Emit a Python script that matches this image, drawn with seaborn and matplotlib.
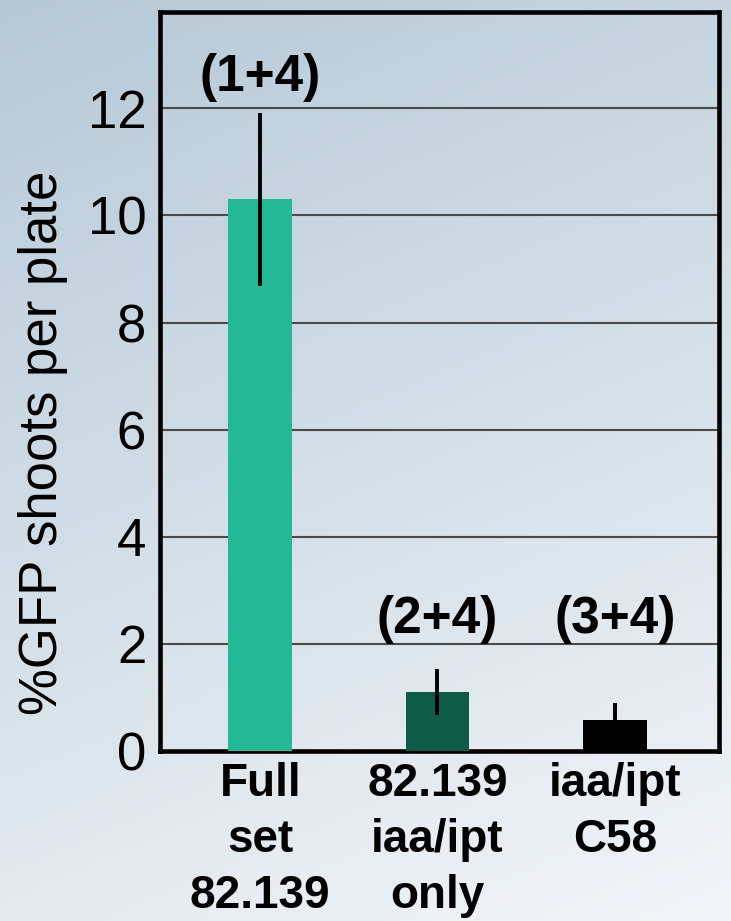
import numpy as np
import pandas as pd
import seaborn as sns
import matplotlib.pyplot as plt

# Datos
categorias = ["Full\nset\n82.139", "82.139\niaa/ipt\nonly", "iaa/ipt\nC58"]
valores = [10.3, 1.10, 0.58]
errores = [1.58, 0.40, 0.28]
etiquetas = ["(1+4)", "(2+4)", "(3+4)"]
colores = ["#22b994", "#0d5c49", "#000000"]
yticks = [0, 2, 4, 6, 8, 10, 12]

sns.set_theme(style="white")
plt.rcParams['font.family'] = ['Liberation Sans', 'DejaVu Sans']

fig = plt.figure(figsize=(7.31, 9.21), dpi=100)

# Fondo degradado
bg = fig.add_axes([0, 0, 1, 1], zorder=-10)
yy, xx = np.mgrid[0:1:200j, 0:1:200j]
t = np.clip(0.75 * yy + 0.25 * xx, 0, 1)
top = np.array([182, 201, 215]) / 255
bot = np.array([242, 245, 248]) / 255
img = top[None, None, :] * (1 - t[..., None]) + bot[None, None, :] * t[..., None]
bg.imshow(img, aspect='auto', extent=[0, 1, 0, 1], origin='upper')
bg.axis('off')

ax = fig.add_axes([0.219, 0.1846, 0.765, 0.8024])
ax.set_facecolor('none')

df = pd.DataFrame({'cat': categorias, 'val': valores})
sns.barplot(data=df, x='cat', y='val', hue='cat', palette=colores,
            width=0.36, legend=False, ax=ax, zorder=3, saturation=1, linewidth=0)
ax.errorbar(range(len(valores)), valores, yerr=errores, fmt='none',
            ecolor='black', elinewidth=2.8, capsize=1.5, capthick=2.8, zorder=4)

for i, lab in enumerate(etiquetas):
    y = 12.58 if i == 0 else 2.45
    ax.text(i, y, lab, ha='center', va='center', fontsize=37,
            fontweight='bold', color='black', zorder=5)

ax.set_ylim(0, 13.8)
ax.set_xlim(-0.565, 2.59)
ax.set_yticks(yticks)
for yv in yticks[1:]:
    ax.axhline(yv, color='#4a4a4a', lw=1.5, zorder=1)

ax.tick_params(axis='y', length=0, pad=10, labelsize=38, labelcolor='black')
ax.tick_params(axis='x', length=0, pad=8, labelsize=33, labelcolor='black')
for lbl in ax.get_xticklabels():
    lbl.set_fontweight('bold')
    lbl.set_linespacing(1.35)
ax.set_xlabel('')
ax.set_ylabel('%GFP shoots per plate', fontsize=38, color='black')
ax.yaxis.set_label_coords(-0.165, 0.417)

for s in ax.spines.values():
    s.set_visible(True)
    s.set_color('black')
    s.set_linewidth(3.3)

plt.savefig('out.png', dpi=100)
